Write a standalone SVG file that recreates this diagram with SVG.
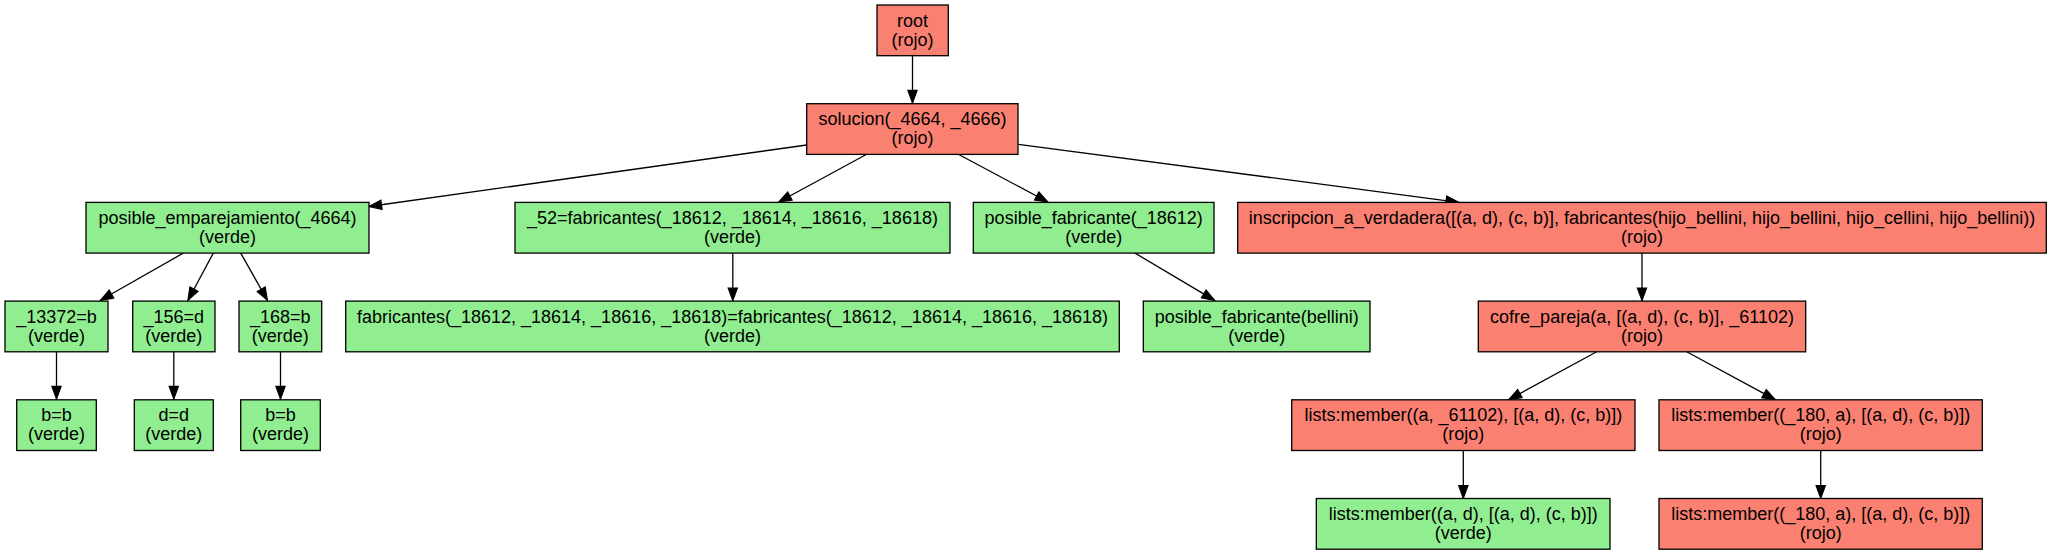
<svg xmlns="http://www.w3.org/2000/svg" width="2051" height="555" viewBox="0 0 2051 555">
<style>
.n rect{stroke:#000;stroke-width:1.3}
.r rect{fill:#fa8072}
.g rect{fill:#90ee90}
text{font-family:"Liberation Sans",Arial,sans-serif;font-size:18px;text-anchor:middle;fill:#000}
.e path{fill:none;stroke:#000;stroke-width:1.3}
</style>
<defs>
<marker id="ah" markerUnits="userSpaceOnUse" markerWidth="16" markerHeight="12" refX="12.6" refY="0" viewBox="-1 -6 16 12" orient="auto">
<path d="M0,-4.6 L12.6,0 L0,4.6 Z" fill="#000" stroke="#000" stroke-width="1.2"/>
</marker>
</defs>
<rect width="2051" height="555" fill="#fff"/>
<g id="edges" class="e">
<path d="M912.5,55.7 L912.5,103" marker-end="url(#ah)"/>
<path d="M806.7,145 L369,206.5" marker-end="url(#ah)"/>
<path d="M866.7,154.3 L778.8,202" marker-end="url(#ah)"/>
<path d="M958.3,154.3 L1047.8,202" marker-end="url(#ah)"/>
<path d="M1018.3,144.3 L1458.6,202.3" marker-end="url(#ah)"/>
<path d="M183.3,253.1 L100.5,300.3" marker-end="url(#ah)"/>
<path d="M213.3,253.1 L188,300.3" marker-end="url(#ah)"/>
<path d="M240.7,253.1 L267.4,300.3" marker-end="url(#ah)"/>
<path d="M56.5,351.8 L56.5,399" marker-end="url(#ah)"/>
<path d="M173.8,351.8 L173.8,399" marker-end="url(#ah)"/>
<path d="M280.5,351.8 L280.5,399" marker-end="url(#ah)"/>
<path d="M732.8,253.1 L732.8,300.6" marker-end="url(#ah)"/>
<path d="M1135,253.1 L1214.6,300.4" marker-end="url(#ah)"/>
<path d="M1642,253.1 L1642,300.6" marker-end="url(#ah)"/>
<path d="M1596.7,351.8 L1508.8,399.6" marker-end="url(#ah)"/>
<path d="M1686.7,351.8 L1775.2,399.6" marker-end="url(#ah)"/>
<path d="M1463.3,450.5 L1463.3,498.3" marker-end="url(#ah)"/>
<path d="M1820.7,450.5 L1820.7,498.3" marker-end="url(#ah)"/>
</g>
<g id="root" class="n r"><rect x="877" y="5" width="71.3" height="50.7"/><text x="912.5" y="26.5">root</text><text x="912.5" y="45.5">(rojo)</text></g>
<g id="solucion" class="n r"><rect x="806.7" y="103.7" width="211.3" height="50.7"/><text x="912.5" y="125.2">solucion(_4664, _4666)</text><text x="912.5" y="144.2">(rojo)</text></g>
<g id="posible_emparejamiento" class="n g"><rect x="86" y="202.4" width="283" height="50.7"/><text x="227.5" y="223.9">posible_emparejamiento(_4664)</text><text x="227.5" y="242.9">(verde)</text></g>
<g id="n52" class="n g"><rect x="515" y="202.4" width="435" height="50.7"/><text x="732.5" y="223.9">_52=fabricantes(_18612, _18614, _18616, _18618)</text><text x="732.5" y="242.9">(verde)</text></g>
<g id="posible_fabricante" class="n g"><rect x="973.3" y="202.4" width="240.7" height="50.7"/><text x="1093.7" y="223.9">posible_fabricante(_18612)</text><text x="1093.7" y="242.9">(verde)</text></g>
<g id="inscripcion" class="n r"><rect x="1237.7" y="202.4" width="808.6" height="50.7"/><text x="1642" y="223.9">inscripcion_a_verdadera([(a, d), (c, b)], fabricantes(hijo_bellini, hijo_bellini, hijo_cellini, hijo_bellini))</text><text x="1642" y="242.9">(rojo)</text></g>
<g id="n13372" class="n g"><rect x="5" y="301.1" width="103" height="50.7"/><text x="56.5" y="322.6">_13372=b</text><text x="56.5" y="341.6">(verde)</text></g>
<g id="n156" class="n g"><rect x="132.7" y="301.1" width="82.3" height="50.7"/><text x="173.8" y="322.6">_156=d</text><text x="173.8" y="341.6">(verde)</text></g>
<g id="n168" class="n g"><rect x="239" y="301.1" width="82.7" height="50.7"/><text x="280.3" y="322.6">_168=b</text><text x="280.3" y="341.6">(verde)</text></g>
<g id="fabricantes_eq" class="n g"><rect x="345.7" y="301.1" width="773.6" height="50.7"/><text x="732.5" y="322.6">fabricantes(_18612, _18614, _18616, _18618)=fabricantes(_18612, _18614, _18616, _18618)</text><text x="732.5" y="341.6">(verde)</text></g>
<g id="posible_fabricante_bellini" class="n g"><rect x="1143.3" y="301.1" width="226.7" height="50.7"/><text x="1256.7" y="322.6">posible_fabricante(bellini)</text><text x="1256.7" y="341.6">(verde)</text></g>
<g id="cofre_pareja" class="n r"><rect x="1478.3" y="301.1" width="327.4" height="50.7"/><text x="1642" y="322.6">cofre_pareja(a, [(a, d), (c, b)], _61102)</text><text x="1642" y="341.6">(rojo)</text></g>
<g id="bb1" class="n g"><rect x="16.7" y="399.8" width="79.6" height="50.7"/><text x="56.5" y="421.3">b=b</text><text x="56.5" y="440.3">(verde)</text></g>
<g id="dd" class="n g"><rect x="134.3" y="399.8" width="79" height="50.7"/><text x="173.8" y="421.3">d=d</text><text x="173.8" y="440.3">(verde)</text></g>
<g id="bb2" class="n g"><rect x="240.7" y="399.8" width="79.6" height="50.7"/><text x="280.5" y="421.3">b=b</text><text x="280.5" y="440.3">(verde)</text></g>
<g id="member1" class="n r"><rect x="1291.7" y="399.8" width="343.3" height="50.7"/><text x="1463.3" y="421.3">lists:member((a, _61102), [(a, d), (c, b)])</text><text x="1463.3" y="440.3">(rojo)</text></g>
<g id="member2" class="n r"><rect x="1659" y="399.8" width="323.3" height="50.7"/><text x="1820.7" y="421.3">lists:member((_180, a), [(a, d), (c, b)])</text><text x="1820.7" y="440.3">(rojo)</text></g>
<g id="member3" class="n g"><rect x="1316.3" y="498.5" width="293.7" height="50.7"/><text x="1463.2" y="520">lists:member((a, d), [(a, d), (c, b)])</text><text x="1463.2" y="539">(verde)</text></g>
<g id="member4" class="n r"><rect x="1659" y="498.5" width="323.3" height="50.7"/><text x="1820.7" y="520">lists:member((_180, a), [(a, d), (c, b)])</text><text x="1820.7" y="539">(rojo)</text></g>
</svg>
